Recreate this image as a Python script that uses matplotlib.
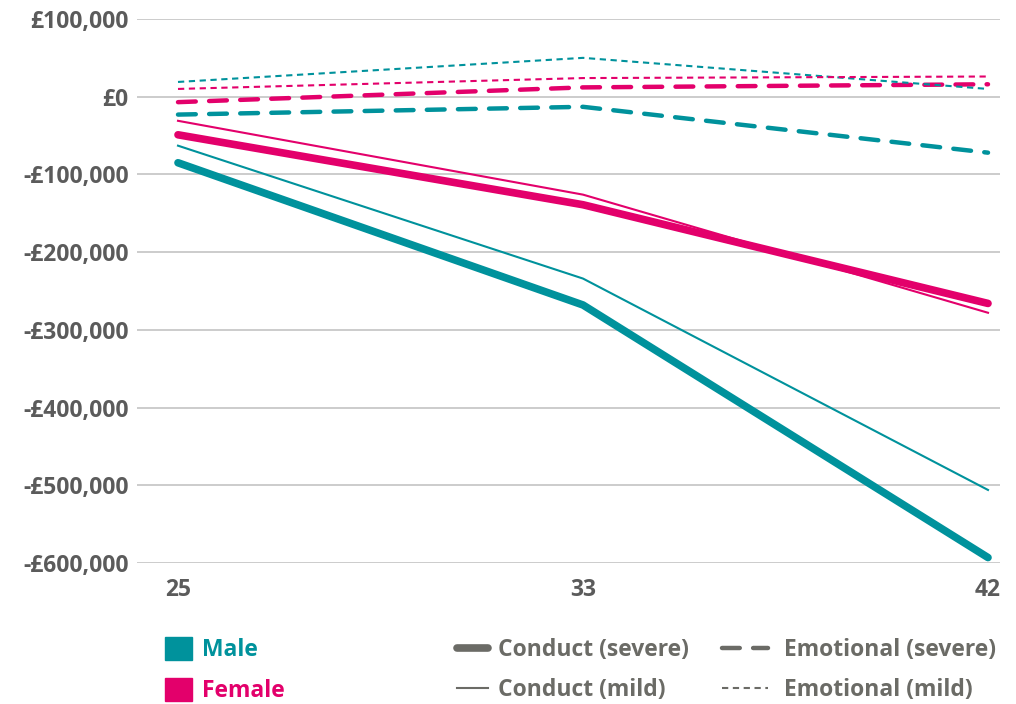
import matplotlib.pyplot as plt
from matplotlib.lines import Line2D
from matplotlib.patches import Patch
from matplotlib.ticker import FuncFormatter

plt.rcParams['font.family'] = ['Open Sans', 'DejaVu Sans']
plt.rcParams['font.weight'] = 'bold'

ages = ['25', '33', '42']

# lifetime difference in earnings (GBP)
male_conduct_severe = [-85000, -268000, -593000]
male_conduct_mild = [-63000, -234000, -506000]
female_conduct_severe = [-49000, -139000, -266000]
female_conduct_mild = [-31000, -126000, -278000]
male_emotional_severe = [-23000, -13000, -72000]
male_emotional_mild = [19000, 50000, 10000]
female_emotional_severe = [-7000, 12000, 16000]
female_emotional_mild = [10000, 24000, 26000]

TEAL = '#00929c'
PINK = '#e3006b'
GREY = '#5b5b5b'
LEG = '#6b6b66'

styles = {
    'conduct_severe': dict(lw=5.5, ls='-', solid_capstyle='round'),
    'conduct_mild': dict(lw=1.5, ls='-'),
    'emotional_severe': dict(lw=3.2, ls=(0, (4, 3)), dash_capstyle='round'),
    'emotional_mild': dict(lw=1.5, ls=(0, (3, 2.2))),
}

fig = plt.figure(figsize=(10.16, 7.04), dpi=100)
ax = fig.add_axes([137/1016, 1-563/704, (1000-137)/1016, (563-19)/704])

x = range(len(ages))
ax.plot(x, male_conduct_severe, color=TEAL, **styles['conduct_severe'])
ax.plot(x, male_conduct_mild, color=TEAL, **styles['conduct_mild'])
ax.plot(x, female_conduct_severe, color=PINK, **styles['conduct_severe'])
ax.plot(x, female_conduct_mild, color=PINK, **styles['conduct_mild'])
ax.plot(x, male_emotional_severe, color=TEAL, **styles['emotional_severe'])
ax.plot(x, female_emotional_severe, color=PINK, **styles['emotional_severe'])
ax.plot(x, male_emotional_mild, color=TEAL, **styles['emotional_mild'])
ax.plot(x, female_emotional_mild, color=PINK, **styles['emotional_mild'])

ax.set_xlim(-41/405, 2 + 12/405)
ax.set_ylim(-600000, 100000)
ax.set_yticks(range(-600000, 100001, 100000))
ax.set_xticks(list(x))
ax.set_xticklabels(ages)

def money(v, pos):
    v = int(round(v))
    if v == 0:
        return '£0'
    s = '£{:,}'.format(abs(v))
    return '-' + s if v < 0 else s

ax.yaxis.set_major_formatter(FuncFormatter(money))
ax.grid(axis='y', color='#c4c4c4', lw=1.2)
ax.set_axisbelow(True)
for s in ax.spines.values():
    s.set_visible(False)
ax.tick_params(length=0, labelsize=16.5, labelcolor=GREY)
ax.tick_params(axis='y', pad=6)
ax.tick_params(axis='x', pad=11)

# legends
FS = 16.5
common = dict(loc='center left', frameon=False, borderpad=0, borderaxespad=0,
              labelspacing=0.67, prop=dict(size=FS, weight='bold'))
ycen = 1 - 670/704

sex_handles = [Patch(color=TEAL), Patch(color=PINK)]
fig.legend(sex_handles, ['Male', 'Female'], bbox_to_anchor=(165/1016, ycen),
           handlelength=1.18, handleheight=1.18, handletextpad=0.45,
           labelcolor=[TEAL, PINK], **common)

cond_handles = [Line2D([], [], color=LEG, **styles['conduct_severe']),
                Line2D([], [], color=LEG, **styles['conduct_mild'])]
fig.legend(cond_handles, ['Conduct (severe)', 'Conduct (mild)'],
           bbox_to_anchor=(457/1016, ycen), handlelength=1.36,
           handletextpad=0.44, labelcolor=LEG, **common)

emo_handles = [Line2D([], [], color=LEG, **styles['emotional_severe']),
               Line2D([], [], color=LEG, **styles['emotional_mild'])]
fig.legend(emo_handles, ['Emotional (severe)', 'Emotional (mild)'],
           bbox_to_anchor=(722/1016, ycen), handlelength=2.0,
           handletextpad=0.7, labelcolor=LEG, **common)

fig.savefig('out.png', dpi=100)
